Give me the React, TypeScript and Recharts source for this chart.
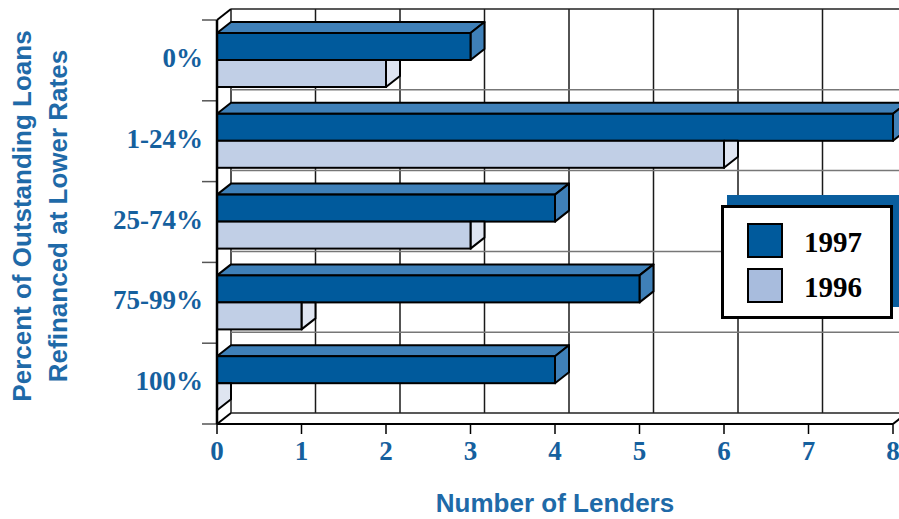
import React from 'react';
import { BarChart, Bar, XAxis, YAxis, CartesianGrid } from 'recharts';

const categories = ['0%', '1-24%', '25-74%', '75-99%', '100%'];
const lenders1997 = [3, 8, 4, 5, 4];
const lenders1996 = [2, 6, 3, 1, 0];
const xTicks = [0, 1, 2, 3, 4, 5, 6, 7, 8];
const seriesNames = ['1997', '1996'];
const xTitle = 'Number of Lenders';
const yTitle1 = 'Percent of Outstanding Loans';
const yTitle2 = 'Refinanced at Lower Rates';

const data = categories.map((c, i) => ({ cat: c, y1997: lenders1997[i], y1996: lenders1996[i] }));

const DX = 14;
const DY = 11;
const DARK = '#005a9c';
const DARK_SIDE = '#3f80b8';
const LIGHT = '#c1cfe6';
const LIGHT_SIDE = '#dfe5f1';
const LEGEND_LIGHT = '#a8bcdd';
const TEXT = '#15609e';
const TITLE = '#1f6aa8';

const DarkBar = (p: any) => {
  const { x, y, width: w, height: h } = p;
  return (
    <g>
      <polygon points={`${x},${y} ${x + DX},${y - DY} ${x + w + DX},${y - DY} ${x + w},${y}`} fill={DARK_SIDE} stroke="#000" strokeWidth={2} strokeLinejoin="round" />
      <polygon points={`${x + w},${y} ${x + w + DX},${y - DY} ${x + w + DX},${y + h - DY} ${x + w},${y + h}`} fill={DARK_SIDE} stroke="#000" strokeWidth={2} strokeLinejoin="round" />
      <rect x={x} y={y} width={w} height={h} fill={DARK} stroke="#000" strokeWidth={2} />
    </g>
  );
};

const LightBar = (p: any) => {
  const { x, y, width: w, height: h } = p;
  return (
    <g>
      <polygon points={`${x + w},${y} ${x + w + DX},${y} ${x + w + DX},${y + h - DY} ${x + w},${y + h}`} fill={LIGHT_SIDE} stroke="#000" strokeWidth={2} strokeLinejoin="round" />
      <rect x={x} y={y} width={w} height={h} fill={LIGHT} stroke="#000" strokeWidth={2} />
    </g>
  );
};

// Remembers the left edge of the plot while CartesianGrid draws its vertical lines in order.
const frame = { left: 0 };

const renderV = (p: any) => {
  const { x1, y1, x2, y2, index } = p;
  if (index === 0) frame.left = x1;
  const isLast = index === xTicks.length - 1;
  const n = categories.length;
  const bounds = isLast ? Array.from({ length: n + 1 }, (_, k) => y1 + (k * (y2 - y1)) / n) : [];
  return (
    <g key={`v${index}`}>
      <line x1={x1 + DX} y1={y1 - DY} x2={x2 + DX} y2={y2 - DY} stroke="#1a1a1a" strokeWidth={1.5} />
      {index === 0 && (
        <>
          <line x1={x1} y1={y1} x2={x1 + DX} y2={y1 - DY} stroke="#000" strokeWidth={2} />
          <line x1={x2} y1={y2} x2={x2 + DX} y2={y2 - DY} stroke="#000" strokeWidth={2} />
        </>
      )}
      {isLast && (
        <>
          {bounds.map((by, k) => (
            <g key={`b${k}`}>
              <line x1={frame.left + DX} y1={by - DY} x2={x1 + DX} y2={by - DY}
                stroke={k === 0 || k === n ? '#222' : '#777'} strokeWidth={1.5} />
              <line x1={frame.left - 15} y1={by} x2={frame.left} y2={by} stroke="#555" strokeWidth={1.5} />
            </g>
          ))}
          <line x1={x2} y1={y2} x2={x2 + DX} y2={y2 - DY} stroke="#000" strokeWidth={2} />
        </>
      )}
    </g>
  );
};

const YTitle = (props: any) => {
  const vb = props.viewBox || { x: 0, y: 20, width: 217, height: 404 };
  const cy = vb.y + vb.height / 2 - 6;
  const x1 = vb.x + 31;
  const x2 = vb.x + 67;
  const style = { fontFamily: '"Liberation Sans", Arial, sans-serif', fontWeight: 700, fontSize: 26 };
  return (
    <g>
      <text x={x1} y={cy} transform={`rotate(-90, ${x1}, ${cy})`} textAnchor="middle" fill={TITLE} style={style}>{yTitle1}</text>
      <text x={x2} y={cy} transform={`rotate(-90, ${x2}, ${cy})`} textAnchor="middle" fill={TITLE} style={style}>{yTitle2}</text>
    </g>
  );
};

const XTitle = (props: any) => {
  const vb = props.viewBox || { x: 217, y: 424, width: 676, height: 95 };
  return (
    <text x={vb.x + vb.width / 2} y={vb.y + 88} textAnchor="middle" fill={TITLE}
      style={{ fontFamily: '"Liberation Sans", Arial, sans-serif', fontWeight: 700, fontSize: 26 }}>{xTitle}</text>
  );
};

const tickStyle = { fontFamily: '"Liberation Serif", serif', fontWeight: 700, fontSize: 27, fill: TEXT };

const LegendBox = () => (
  <div style={{ position: 'absolute', left: 721, top: 205, width: 172, height: 114 }}>
    <svg width={190} height={130} style={{ position: 'absolute', left: 0, top: -12, overflow: 'visible' }}>
      <rect x={6} y={2} width={180} height={112} fill="#0a5e9e" />
      <rect x={1.5} y={13.5} width={169} height={111} fill="#fff" stroke="#000" strokeWidth={3} />
      {seriesNames.map((n, i) => (
        <g key={n}>
          <rect x={27} y={31 + i * 45} width={34} height={33} fill={i === 0 ? DARK : LEGEND_LIGHT} stroke="#000" strokeWidth={2} />
          <text x={83} y={59 + i * 45} fill="#000"
            style={{ fontFamily: '"Liberation Serif", serif', fontWeight: 700, fontSize: 29 }}>{n}</text>
        </g>
      ))}
    </svg>
  </div>
);

export default function App() {
  return (
    <div style={{ position: 'absolute', left: 0, top: 0, width: 899, height: 519, background: '#fff', overflow: 'hidden' }}>
      <BarChart width={899} height={519} data={data} layout="vertical"
        margin={{ top: 20, right: 6, left: 0, bottom: 0 }} barGap={0} barSize={27}>
        <CartesianGrid vertical={renderV} horizontal={false} />
        <XAxis type="number" domain={[0, 8]} ticks={xTicks} interval={0}
          tickSize={10} tickMargin={7} height={95}
          axisLine={{ stroke: '#000', strokeWidth: 2 }} tickLine={{ stroke: '#000', strokeWidth: 1.5 }}
          tick={tickStyle} label={<XTitle />} />
        <YAxis type="category" dataKey="cat" width={217} tickSize={0} tickMargin={14}
          axisLine={{ stroke: '#000', strokeWidth: 2.5 }} tickLine={false} tick={{ ...tickStyle, dy: -3 }} label={<YTitle />} />
        <Bar dataKey="y1997" name={seriesNames[0]} fill={DARK} shape={DarkBar} isAnimationActive={false} />
        <Bar dataKey="y1996" name={seriesNames[1]} fill={LIGHT} shape={LightBar} isAnimationActive={false} />
      </BarChart>
      <LegendBox />
    </div>
  );
}
